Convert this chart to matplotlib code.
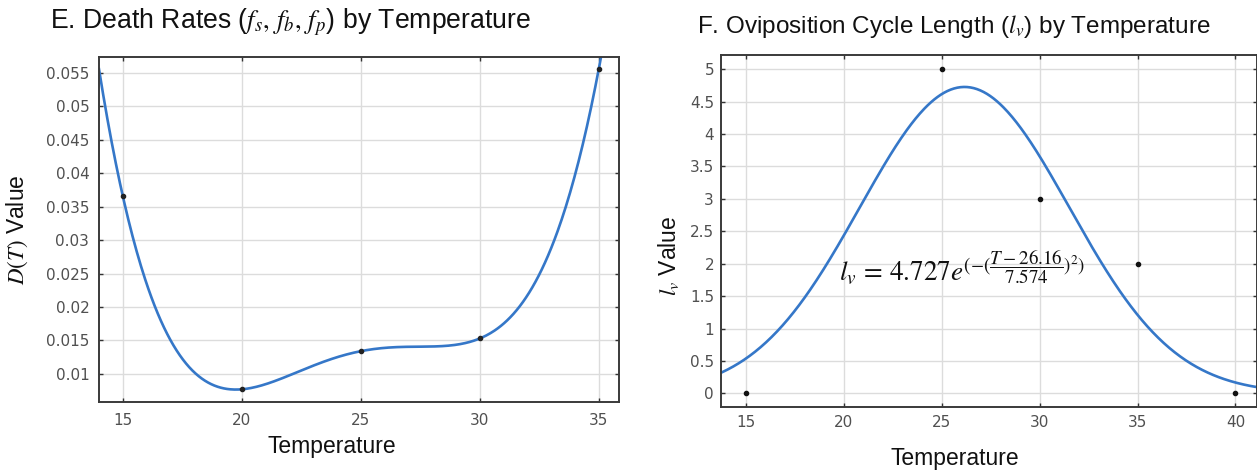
import numpy as np
import matplotlib.pyplot as plt
from matplotlib.ticker import FixedLocator, FixedFormatter

plt.rcParams['mathtext.fontset'] = 'stix'

# Panel E: observed death rates and the quartic fit through them
death_temp = [15, 20, 25, 30, 35]
death_rate = [0.0366, 0.0077, 0.0134, 0.0153, 0.0556]
death_yticks = [0.01, 0.015, 0.02, 0.025, 0.03, 0.035, 0.04, 0.045, 0.05, 0.055]
death_xticks = [15, 20, 25, 30, 35]

# Panel F: observed oviposition cycle length and gaussian fit parameters
ovi_temp = [15, 25, 30, 35, 40]
ovi_len = [0, 5, 3, 2, 0]
ovi_amp, ovi_mu, ovi_sigma = 4.727, 26.16, 7.574
ovi_yticks = [0, 0.5, 1, 1.5, 2, 2.5, 3, 3.5, 4, 4.5, 5]
ovi_xticks = [15, 20, 25, 30, 35, 40]

LINE_COLOR = '#3577c8'
TICK_COLOR = '#505050'
LABEL_FONT = 'Liberation Sans'


# Applies the boxed, inward-tick style used in both panels
def style_axes(ax, xticks, yticks, xpad, ypad):
    ax.xaxis.set_major_locator(FixedLocator(xticks))
    ax.xaxis.set_major_formatter(FixedFormatter(['%g' % t for t in xticks]))
    ax.yaxis.set_major_locator(FixedLocator(yticks))
    ax.yaxis.set_major_formatter(FixedFormatter(['%g' % t for t in yticks]))
    ax.tick_params(direction='in', top=True, right=True, length=3, width=1,
                   colors='#333333', labelcolor=TICK_COLOR, labelsize=11)
    ax.tick_params(axis='x', pad=xpad)
    ax.tick_params(axis='y', pad=ypad)
    for lab in ax.get_xticklabels() + ax.get_yticklabels():
        lab.set_family('DejaVu Sans')
    ax.grid(True, color='#dcdcdc', linewidth=1)
    ax.set_axisbelow(True)
    for sp in ax.spines.values():
        sp.set_color('#3a3a3a')
        sp.set_linewidth(1.4)


fig = plt.figure(figsize=(12.57, 4.72), dpi=100)

# Left panel
ax1 = fig.add_axes([99 / 1257, 70 / 472, 520 / 1257, 345 / 472])
coef = np.polyfit(death_temp, death_rate, 4)
tt = np.linspace(14, 36, 500)
ax1.plot(tt, np.polyval(coef, tt), color=LINE_COLOR, linewidth=1.9)
ax1.plot(death_temp, death_rate, 'o', color='#222222', markersize=3)
ax1.set_xlim(14, 35.85)
ax1.set_ylim(0.0058, 0.0574)
style_axes(ax1, death_xticks, death_yticks, xpad=8, ypad=7)
ax1.set_xlabel('Temperature', fontsize=16.5, family=LABEL_FONT, color='#111111')
ax1.xaxis.set_label_coords(0.448, -0.095)
ax1.set_ylabel(r'$D(T)$ Value', fontsize=16.5, family=LABEL_FONT, color='#111111')
ax1.yaxis.set_label_coords(-0.133, 0.5)
fig.text(50 / 1257, 1 - 28 / 472, r'E. Death Rates ($f_s,\,f_b,\,f_p$) by Temperature',
         fontsize=19.2, family=LABEL_FONT, color='#111111', ha='left', va='baseline')

# Right panel
ax2 = fig.add_axes([721 / 1257, 65 / 472, 536 / 1257, 352 / 472])
tt2 = np.linspace(13.5, 41.5, 500)
ax2.plot(tt2, ovi_amp * np.exp(-((tt2 - ovi_mu) / ovi_sigma) ** 2),
         color=LINE_COLOR, linewidth=1.9)
ax2.plot(ovi_temp, ovi_len, 'o', color='#111111', markersize=3)
ax2.set_xlim(13.72, 41.1)
ax2.set_ylim(-0.21, 5.22)
style_axes(ax2, ovi_xticks, ovi_yticks, xpad=6, ypad=5)
ax2.set_xlabel('Temperature', fontsize=16.5, family=LABEL_FONT, color='#111111')
ax2.xaxis.set_label_coords(0.437, -0.115)
ax2.set_ylabel(r'$l_v$ Value', fontsize=16.5, family=LABEL_FONT, color='#111111')
ax2.yaxis.set_label_coords(-0.075, 0.429)
formula = r'$l_v\,=\,%s e^{(-(\dfrac{T-%s}{%s})^2)}$' % (ovi_amp, ovi_mu, ovi_sigma)
ax2.text(19.75, 1.73, formula, fontsize=19.5, color='#111111', ha='left', va='baseline')
fig.text(697 / 1257, 1 - 33 / 472, r'F. Oviposition Cycle Length ($l_v$) by Temperature',
         fontsize=17.5, family=LABEL_FONT, color='#111111', ha='left', va='baseline')

plt.savefig('out.png', dpi=100)
